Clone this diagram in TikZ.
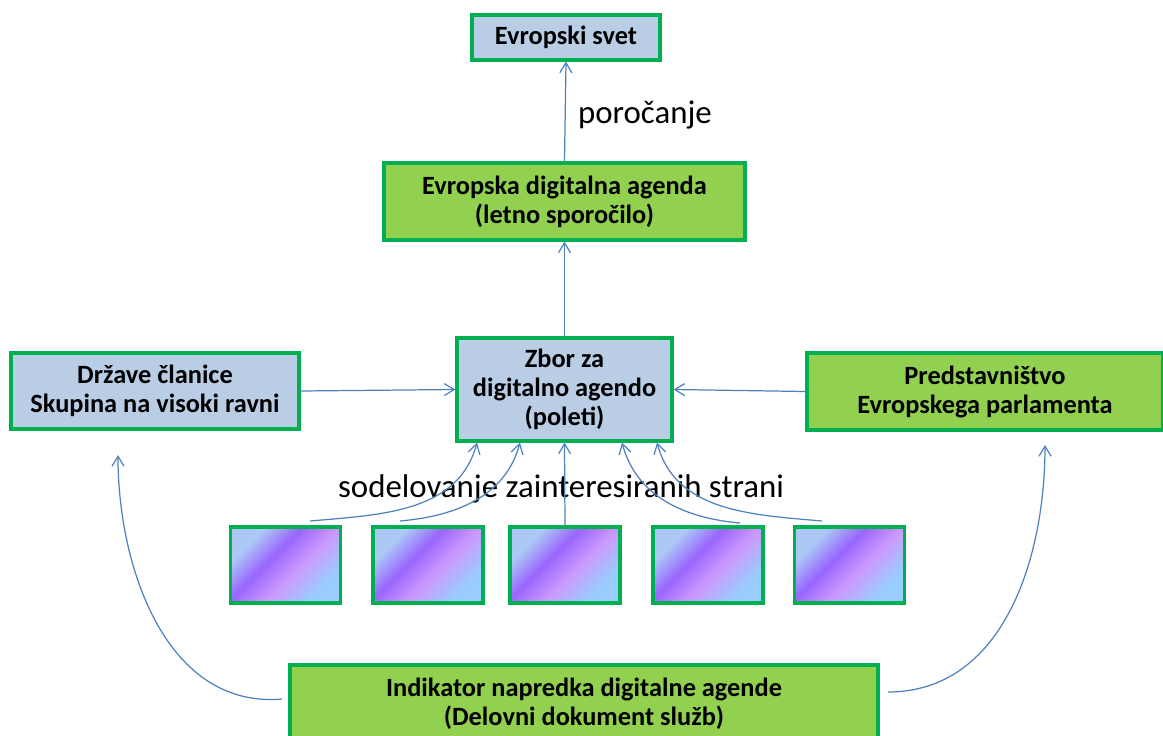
\documentclass[tikz,border=0pt]{standalone}
\usepackage{fontspec}
\setmainfont{Carlito}
\usetikzlibrary{arrows.meta}

\definecolor{boxBlue}{HTML}{B9CDE5}
\definecolor{boxGreen}{HTML}{92D050}
\definecolor{borderGreen}{HTML}{00B050}
\definecolor{arrowBlue}{HTML}{4F81BD}
\definecolor{stripeA}{HTML}{ACC8F5}
\definecolor{stripeB}{HTML}{9966FF}
\definecolor{stripeC}{HTML}{CC99FF}
\definecolor{stripeD}{HTML}{99CCFF}

\pgfdeclarehorizontalshading{stripeshade}{100bp}{color(0bp)=(stripeA); color(28bp)=(stripeA);
  color(42bp)=(stripeB); color(56bp)=(stripeC); color(72bp)=(stripeD); color(100bp)=(stripeD)}

\tikzset{
  box/.style={draw=borderGreen, line width=1.8pt, align=center, inner sep=0pt,
    font=\bfseries\fontsize{15}{16.5}\selectfont},
  bluebox/.style={box, fill=boxBlue},
  greenbox/.style={box, fill=boxGreen},
  stakebox/.style={draw=borderGreen, line width=1.8pt, shading=stripeshade, shading angle=-45,
    minimum width=2.2cm, minimum height=1.52cm},
  link/.style={draw=arrowBlue, line width=0.7pt, -{Straight Barb[length=2mm,width=2.4mm]}},
  bigtext/.style={font=\fontsize{18.7}{22}\selectfont}
}

\begin{document}
\begin{tikzpicture}
    \useasboundingbox (0,0) rectangle (23.26,-14.72);

    % Main boxes
    \node[bluebox, minimum width=3.76cm, minimum height=0.9cm] (svet) at (11.32,-0.75) {Evropski svet};
    \node[greenbox, minimum width=7.22cm, minimum height=1.54cm] (agenda) at (11.29,-4.03)
        {Evropska digitalna agenda\\(letno sporočilo)};
    \node[bluebox, minimum width=4.3cm, minimum height=2.06cm] (zbor) at (11.29,-7.79)
        {Zbor za\\digitalno agendo\\(poleti)};
    \node[bluebox, minimum width=5.76cm, minimum height=1.52cm] (drzave) at (3.1,-7.82)
        {Države članice\\Skupina na visoki ravni};
    \node[greenbox, minimum width=7.12cm, minimum height=1.54cm] (parlament) at (19.7,-7.83)
        {Predstavništvo\\Evropskega parlamenta};
    \node[greenbox, minimum width=11.76cm, minimum height=1.56cm] (indikator) at (11.68,-14.08)
        {Indikator napredka digitalne agende\\(Delovni dokument služb)};

    % Stakeholder boxes
    \foreach \i/\x in {1/5.71, 2/8.56, 3/11.30, 4/14.16, 5/16.99}
        \node[stakebox] (stake\i) at (\x,-11.3) {};

    % Labels
    \node[bigtext] (porocanje) at (12.9,-2.3) {poročanje};
    \node[bigtext] (sodelovanje) at (11.22,-9.78) {sodelovanje zainteresiranih strani};

    % Free ends of the curved arrows
    \coordinate (s1) at (6.2,-10.42);
    \coordinate (s2) at (8.0,-10.42);
    \coordinate (s4) at (14.8,-10.46);
    \coordinate (s5) at (16.44,-10.42);
    \coordinate (leftStart) at (5.64,-13.98);
    \coordinate (leftEnd) at (2.36,-9.1);
    \coordinate (rightStart) at (17.76,-13.84);
    \coordinate (rightEnd) at (20.9,-8.9);

    % Straight arrows
    \draw[link] (agenda.north) -- (svet.south);
    \draw[link] (zbor.north) -- (agenda.south);
    \draw[link] (drzave.east) -- (zbor.west);
    \draw[link] (parlament.west) -- (zbor.east);
    \draw[link] (stake3.north) -- (zbor.south);

    % Curved arrows
    \draw[link] (s1) to[out=5, in=-105] ([xshift=-1.75cm]zbor.south);
    \draw[link] (s2) to[out=5, in=-105] ([xshift=-0.89cm]zbor.south);
    \draw[link] (s4) to[out=175, in=-75] ([xshift=1.15cm]zbor.south);
    \draw[link] (s5) to[out=175, in=-75] ([xshift=1.85cm]zbor.south);
    \draw[link] (leftStart) to[out=185, in=-90] (leftEnd);
    \draw[link] (rightStart) to[out=0, in=-90] (rightEnd);

\end{tikzpicture}
\end{document}
